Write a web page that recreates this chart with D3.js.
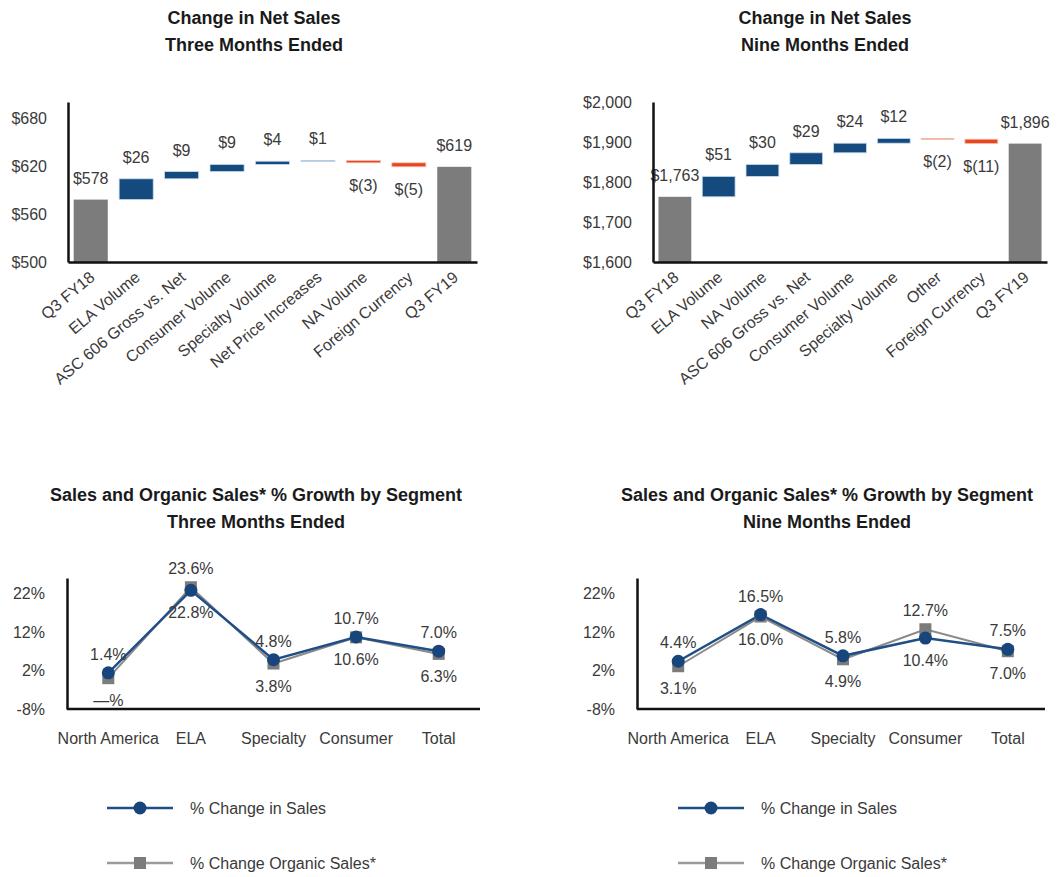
<!DOCTYPE html>
<html><head><meta charset="utf-8">
<script src="https://cdnjs.cloudflare.com/ajax/libs/d3/7.8.5/d3.min.js"></script>
<style>
html,body{margin:0;padding:0;background:#fff;}
svg{display:block;font-family:"Liberation Sans",Arial,sans-serif;}
</style></head><body>
<svg id="chart" width="1060" height="877"></svg>
<script>
// ---------- DATA ----------
const wfCatsThree = ["Q3 FY18","ELA Volume","ASC 606 Gross vs. Net","Consumer Volume","Specialty Volume","Net Price Increases","NA Volume","Foreign Currency","Q3 FY19"];
const wfValsThree = [578, 26, 9, 9, 4, 1, -3, -5, 619];
const wfTicksThree = [500, 560, 620, 680];
const wfDomainThree = [500, 700];

const wfCatsNine = ["Q3 FY18","ELA Volume","NA Volume","ASC 606 Gross vs. Net","Consumer Volume","Specialty Volume","Other","Foreign Currency","Q3 FY19"];
const wfValsNine = [1763, 51, 30, 29, 24, 12, -2, -11, 1896];
const wfTicksNine = [1600, 1700, 1800, 1900, 2000];
const wfDomainNine = [1600, 2000];

const segments = ["North America","ELA","Specialty","Consumer","Total"];
const salesThree = [1.4, 22.8, 4.8, 10.7, 7.0];
const organicThree = [0.0, 23.6, 3.8, 10.6, 6.3];
const salesNine = [4.4, 16.5, 5.8, 10.4, 7.5];
const organicNine = [3.1, 16.0, 4.9, 12.7, 7.0];
const pctTicks = [-8, 2, 12, 22];
const pctDomain = [-8, 26];
const seriesNames = ["% Change in Sales", "% Change Organic Sales*"];

// ---------- STYLE ----------
const BLUE = "#144a7e", RED = "#e8461f", GRAY = "#7c7c7c";
const TXT = "#3a3a3a";
const svg = d3.select("#chart");

function title(cx, y1, lines){
  lines.forEach((t,i)=>{
    svg.append("text").attr("x",cx).attr("y",y1+i*27).attr("text-anchor","middle")
      .attr("font-size",18).attr("font-weight","bold").attr("fill","#1a1a1a").text(t);
  });
}

function money(v){ return v<0 ? "$(" + d3.format(",")(-v) + ")" : "$" + d3.format(",")(v); }

function waterfall(cfg){
  const {cats, vals, ticks, domain, x0, x1, yTop, yBot} = cfg;
  const g = svg.append("g");
  const x = d3.scaleBand().domain(cats).range([x0,x1]).paddingInner(0.25).paddingOuter(0.125);
  const y = d3.scaleLinear().domain(domain).range([yBot,yTop]);
  // compute steps
  let run = 0;
  const bars = vals.map((v,i)=>{
    if(i===0 || i===vals.length-1){ run = v; return {c:cats[i], v, lo:domain[0], hi:v, type:"total"}; }
    const s = run; run += v;
    return {c:cats[i], v, lo:Math.min(s,run), hi:Math.max(s,run), type: v<0?"neg":"pos"};
  });
  g.selectAll("rect").data(bars).join("rect")
    .attr("x",d=>x(d.c)).attr("width",x.bandwidth())
    .attr("y",d=>y(d.hi)).attr("height",d=>Math.max(1,y(d.lo)-y(d.hi)))
    .attr("fill",d=>d.type==="total"?GRAY:(d.type==="neg"?RED:BLUE))
    .attr("stroke",d=>d.type==="total"?"none":(d.type==="neg"?"#f6c2b3":"#c9dbec"))
    .attr("stroke-width",d=>d.type==="total"?0:0.8);
  // value labels
  g.selectAll("text.val").data(bars).join("text").attr("class","val")
    .attr("x",d=>x(d.c)+x.bandwidth()/2)
    .attr("y",d=>d.type==="neg" ? y(d.lo)+28 : y(d.hi)-16)
    .attr("text-anchor","middle").attr("font-size",16).attr("fill",TXT)
    .text(d=>money(d.v));
  // y axis
  const ya = g.append("g").attr("transform",`translate(${x0},0)`)
    .call(d3.axisLeft(y).tickValues(ticks).tickSize(0).tickPadding(21).tickFormat(money));
  ya.select(".domain").attr("stroke","#111").attr("stroke-width",2.5);
  ya.selectAll("text").attr("font-size",16).attr("fill",TXT).attr("font-family","Liberation Sans, Arial, sans-serif");
  // x axis
  const xa = g.append("g").attr("transform",`translate(0,${yBot})`)
    .call(d3.axisBottom(x).tickSize(0).tickFormat(""));
  xa.select(".domain").attr("stroke","#111").attr("stroke-width",2.5);
  g.selectAll("text.cat").data(cats).join("text").attr("class","cat")
    .attr("transform",c=>`translate(${x(c)+x.bandwidth()/2+5},${yBot+17}) rotate(-40)`)
    .attr("text-anchor","end").attr("font-size",16).attr("fill",TXT).text(c=>c);
}

function lineChart(cfg){
  const {sales, organic, x0, x1, xEnd, yTop, yBot} = cfg;
  const g = svg.append("g");
  const x = d3.scalePoint().domain(segments).range([x0,x1]).padding(0.5);
  const y = d3.scaleLinear().domain(pctDomain).range([yBot,yTop]);
  const ya = g.append("g").attr("transform",`translate(${x0},0)`)
    .call(d3.axisLeft(y).tickValues(pctTicks).tickSize(0).tickPadding(22).tickFormat(d=>d+"%"));
  ya.select(".domain").attr("stroke","#111").attr("stroke-width",2.5);
  ya.selectAll("text").attr("font-size",16).attr("fill",TXT).attr("font-family","Liberation Sans, Arial, sans-serif");
  g.append("line").attr("x1",x0).attr("x2",xEnd).attr("y1",yBot).attr("y2",yBot)
    .attr("stroke","#111").attr("stroke-width",2.5);
  g.selectAll("text.cat").data(segments).join("text").attr("class","cat")
    .attr("x",d=>x(d)).attr("y",yBot+35).attr("text-anchor","middle")
    .attr("font-size",16).attr("fill",TXT).text(d=>d);
  const line = d3.line().x((d,i)=>x(segments[i])).y(d=>y(d));
  g.append("path").attr("d",line(organic)).attr("fill","none").attr("stroke","#8a8a8a").attr("stroke-width",2);
  g.append("path").attr("d",line(sales)).attr("fill","none").attr("stroke","#1f4f86").attr("stroke-width",2.5);
  g.selectAll("rect.m").data(organic).join("rect").attr("class","m")
    .attr("x",(d,i)=>x(segments[i])-6).attr("y",d=>y(d)-6).attr("width",12).attr("height",12).attr("fill",GRAY);
  g.selectAll("circle.m").data(sales).join("circle").attr("class","m")
    .attr("cx",(d,i)=>x(segments[i])).attr("cy",d=>y(d)).attr("r",6.5).attr("fill","#17457c");
  const fmt = v => v===0 ? "\u2014%" : v.toFixed(1)+"%";
  const labels = [];
  segments.forEach((s,i)=>{
    const sHigh = sales[i] >= organic[i] && !(s==="ELA" && organic[i]>sales[i]);
    const above = sales[i] >= organic[i] ? {v:sales[i]} : {v:organic[i]};
    const below = sales[i] >= organic[i] ? {v:organic[i]} : {v:sales[i]};
    labels.push({s, v:above.v, pos:"above"});
    labels.push({s, v:below.v, pos:"below"});
  });
  g.selectAll("text.lab").data(labels).join("text").attr("class","lab")
    .attr("x",d=>x(d.s)).attr("y",d=>d.pos==="above"? y(d.v)-13 : y(d.v)+28)
    .attr("text-anchor","middle").attr("font-size",16).attr("fill",TXT).text(d=>fmt(d.v));
}

function legend(lx, y1, y2){
  const g = svg.append("g");
  g.append("line").attr("x1",lx).attr("x2",lx+66).attr("y1",y1).attr("y2",y1).attr("stroke","#1f4f86").attr("stroke-width",2.5);
  g.append("circle").attr("cx",lx+33).attr("cy",y1).attr("r",6.5).attr("fill","#17457c");
  g.append("text").attr("x",lx+83).attr("y",y1+6).attr("font-size",16).attr("fill",TXT).text(seriesNames[0]);
  g.append("line").attr("x1",lx).attr("x2",lx+66).attr("y1",y2).attr("y2",y2).attr("stroke","#9a9a9a").attr("stroke-width",2.5);
  g.append("rect").attr("x",lx+27).attr("y",y2-6).attr("width",12).attr("height",12).attr("fill",GRAY);
  g.append("text").attr("x",lx+83).attr("y",y2+6).attr("font-size",16).attr("fill",TXT).text(seriesNames[1]);
}

title(254, 24, ["Change in Net Sales","Three Months Ended"]);
title(825, 24, ["Change in Net Sales","Nine Months Ended"]);
title(256, 501, ["Sales and Organic Sales* % Growth by Segment","Three Months Ended"]);
title(827, 501, ["Sales and Organic Sales* % Growth by Segment","Nine Months Ended"]);

waterfall({cats:wfCatsThree, vals:wfValsThree, ticks:wfTicksThree, domain:wfDomainThree, x0:68, x1:477, yTop:102, yBot:262});
waterfall({cats:wfCatsNine, vals:wfValsNine, ticks:wfTicksNine, domain:wfDomainNine, x0:653, x1:1047, yTop:102, yBot:262});

lineChart({sales:salesThree, organic:organicThree, x0:67, x1:480, xEnd:480, yTop:578, yBot:709});
lineChart({sales:salesNine, organic:organicNine, x0:637, x1:1049, xEnd:1045, yTop:578, yBot:709});

legend(107, 808, 863);
legend(678, 808, 863);
</script>
</body></html>
